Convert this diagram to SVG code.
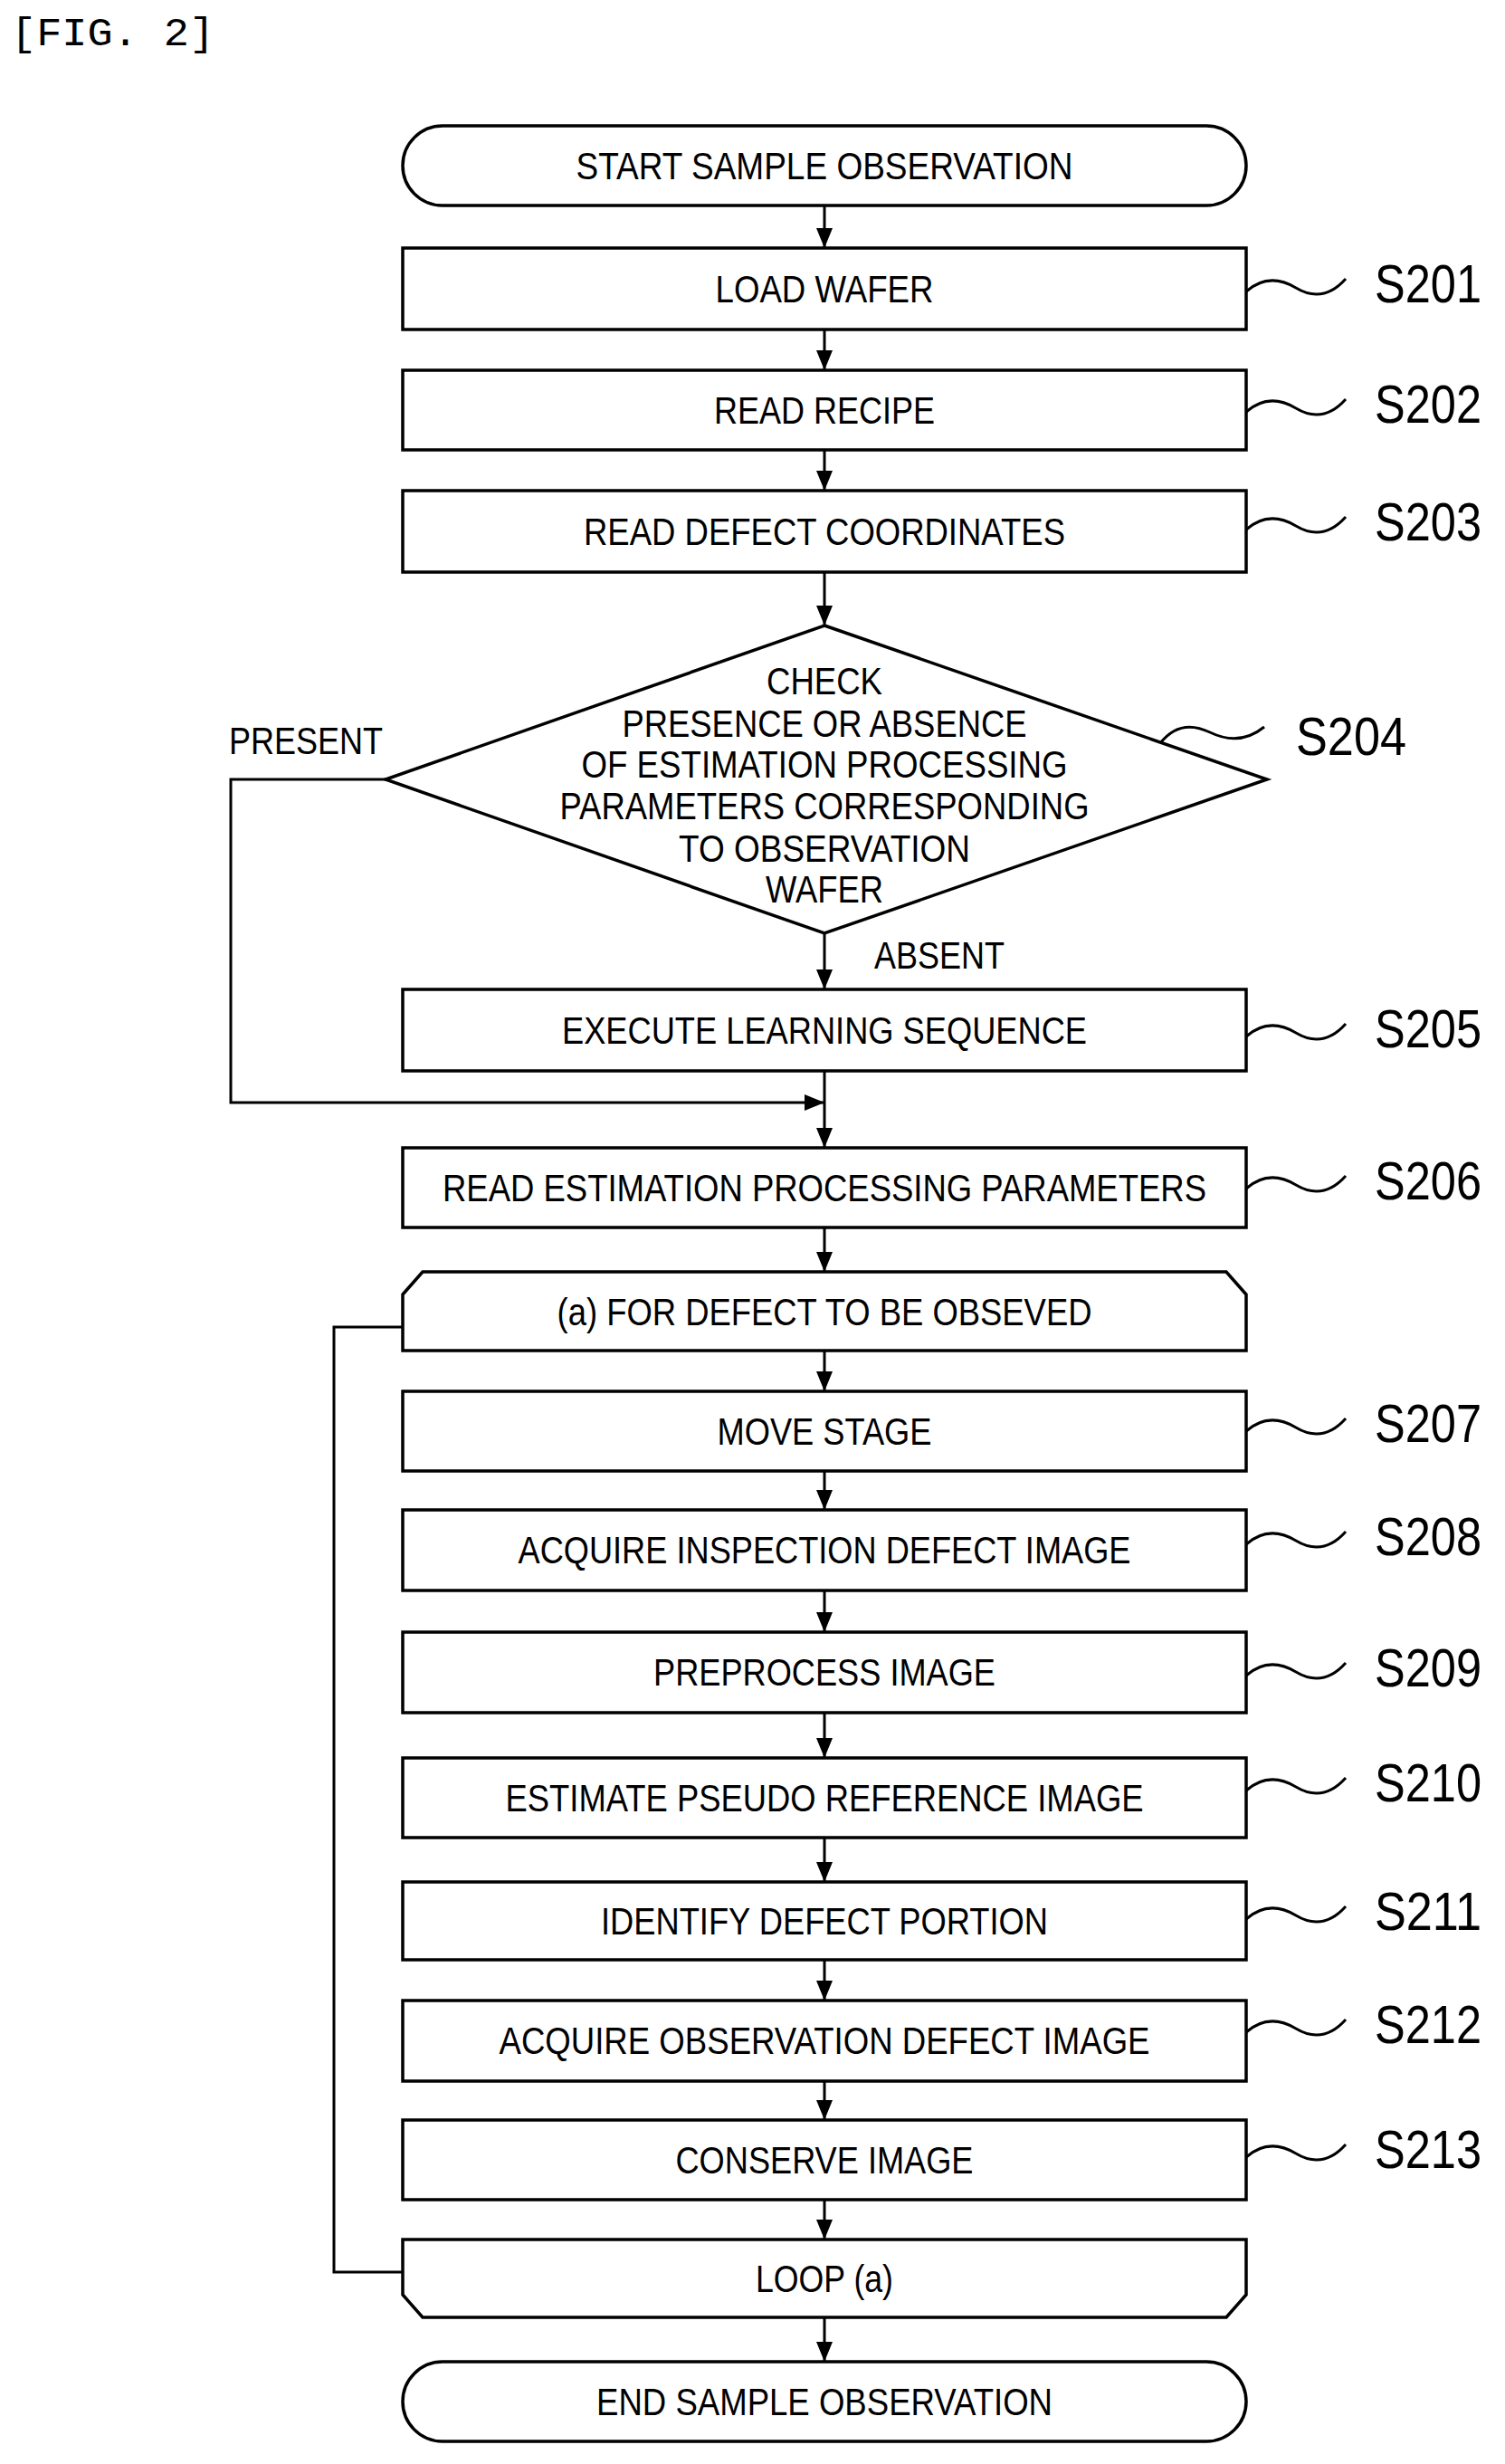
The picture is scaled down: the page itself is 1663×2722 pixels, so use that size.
<svg xmlns="http://www.w3.org/2000/svg" width="1663" height="2722" viewBox="0 0 1663 2722">
<style>
.b{fill:#fff;stroke:#000;stroke-width:3.5}
.t{font-family:"Liberation Sans",Arial,sans-serif;font-size:42px;text-anchor:middle;fill:#000}
.s{font-family:"Liberation Sans",Arial,sans-serif;font-size:60px;fill:#000}
.c{fill:none;stroke:#000;stroke-width:3}
</style>
<defs>
<marker id="ah" markerWidth="22" markerHeight="22" refX="22" refY="11" orient="auto" markerUnits="userSpaceOnUse" viewBox="0 0 22 22"><path d="M0,2L22,11L0,20z" fill="#000"/></marker></defs>
<rect width="1663" height="2722" fill="#fff"/>
<text x="12" y="50" font-family="Liberation Mono,monospace" font-size="44" textLength="225" lengthAdjust="spacingAndGlyphs">[FIG. 2]</text>
<g id="connectors">
<path class="c" marker-end="url(#ah)" d="M911,227V274"/>
<path class="c" marker-end="url(#ah)" d="M911,364V409"/>
<path class="c" marker-end="url(#ah)" d="M911,497V542"/>
<path class="c" marker-end="url(#ah)" d="M911,632V691"/>
<path class="c" marker-end="url(#ah)" d="M911,1031V1093"/>
<path class="c" marker-end="url(#ah)" d="M911,1183V1268"/>
<path class="c" marker-end="url(#ah)" d="M426,861H255V1218H911"/>
<path class="c" marker-end="url(#ah)" d="M911,1356V1405"/>
<path class="c" marker-end="url(#ah)" d="M911,1492V1537"/>
<path class="c" marker-end="url(#ah)" d="M911,1625V1668"/>
<path class="c" marker-end="url(#ah)" d="M911,1757V1803"/>
<path class="c" marker-end="url(#ah)" d="M911,1892V1942"/>
<path class="c" marker-end="url(#ah)" d="M911,2030V2079"/>
<path class="c" marker-end="url(#ah)" d="M911,2165V2210"/>
<path class="c" marker-end="url(#ah)" d="M911,2299V2342"/>
<path class="c" marker-end="url(#ah)" d="M911,2430V2474"/>
<path class="c" marker-end="url(#ah)" d="M911,2560V2609"/>
<path class="c" d="M445,2510H369V1466H445"/>
<text class="t" x="1038" y="1070" textLength="144" lengthAdjust="spacingAndGlyphs">ABSENT</text>
<text class="t" x="338" y="833" textLength="170" lengthAdjust="spacingAndGlyphs">PRESENT</text>
</g>
<g id="start"><rect class="b" x="445" y="139" width="932" height="88" rx="44"/><text class="t" x="911" y="198" textLength="549" lengthAdjust="spacingAndGlyphs">START SAMPLE OBSERVATION</text></g>
<g id="s201"><rect class="b" x="445" y="274" width="932" height="90"/><text class="t" x="911" y="334" textLength="241" lengthAdjust="spacingAndGlyphs">LOAD WAFER</text>
<path class="c" d="M1377,322q25,-22 55,-4t55,-10"/><text class="s" x="1519" y="334" textLength="118" lengthAdjust="spacingAndGlyphs">S201</text></g>
<g id="s202"><rect class="b" x="445" y="409" width="932" height="88"/><text class="t" x="911" y="468" textLength="244" lengthAdjust="spacingAndGlyphs">READ RECIPE</text>
<path class="c" d="M1377,455q25,-22 55,-4t55,-10"/><text class="s" x="1519" y="467" textLength="118" lengthAdjust="spacingAndGlyphs">S202</text></g>
<g id="s203"><rect class="b" x="445" y="542" width="932" height="90"/><text class="t" x="911" y="602" textLength="532" lengthAdjust="spacingAndGlyphs">READ DEFECT COORDINATES</text>
<path class="c" d="M1377,585q25,-22 55,-4t55,-10"/><text class="s" x="1519" y="597" textLength="118" lengthAdjust="spacingAndGlyphs">S203</text></g>
<g id="s204"><path class="b" d="M911,691L1400,861L911,1031L426,861z"/>
<text class="t" x="911" y="767" textLength="128" lengthAdjust="spacingAndGlyphs">CHECK</text>
<text class="t" x="911" y="814" textLength="447" lengthAdjust="spacingAndGlyphs">PRESENCE OR ABSENCE</text>
<text class="t" x="911" y="859" textLength="537" lengthAdjust="spacingAndGlyphs">OF ESTIMATION PROCESSING</text>
<text class="t" x="911" y="905" textLength="585" lengthAdjust="spacingAndGlyphs">PARAMETERS CORRESPONDING</text>
<text class="t" x="911" y="952" textLength="322" lengthAdjust="spacingAndGlyphs">TO OBSERVATION</text>
<text class="t" x="911" y="997" textLength="130" lengthAdjust="spacingAndGlyphs">WAFER</text>
<path class="c" d="M1282,821q22,-28 55,-12t60,-6"/><text class="s" x="1432" y="834" textLength="122" lengthAdjust="spacingAndGlyphs">S204</text></g>
<g id="s205"><rect class="b" x="445" y="1093" width="932" height="90"/><text class="t" x="911" y="1153" textLength="580" lengthAdjust="spacingAndGlyphs">EXECUTE LEARNING SEQUENCE</text>
<path class="c" d="M1377,1145q25,-22 55,-4t55,-10"/><text class="s" x="1519" y="1157" textLength="118" lengthAdjust="spacingAndGlyphs">S205</text></g>
<g id="s206"><rect class="b" x="445" y="1268" width="932" height="88"/><text class="t" x="911" y="1327" textLength="844" lengthAdjust="spacingAndGlyphs">READ ESTIMATION PROCESSING PARAMETERS</text>
<path class="c" d="M1377,1313q25,-22 55,-4t55,-10"/><text class="s" x="1519" y="1325" textLength="118" lengthAdjust="spacingAndGlyphs">S206</text></g>
<g id="loopstart"><path class="b" d="M467,1405H1355L1377,1430V1492H445V1430z"/><text class="t" x="911" y="1464" textLength="591" lengthAdjust="spacingAndGlyphs">(a) FOR DEFECT TO BE OBSEVED</text></g>
<g id="s207"><rect class="b" x="445" y="1537" width="932" height="88"/><text class="t" x="911" y="1596" textLength="237" lengthAdjust="spacingAndGlyphs">MOVE STAGE</text>
<path class="c" d="M1377,1581q25,-22 55,-4t55,-10"/><text class="s" x="1519" y="1593" textLength="118" lengthAdjust="spacingAndGlyphs">S207</text></g>
<g id="s208"><rect class="b" x="445" y="1668" width="932" height="89"/><text class="t" x="911" y="1727" textLength="677" lengthAdjust="spacingAndGlyphs">ACQUIRE INSPECTION DEFECT IMAGE</text>
<path class="c" d="M1377,1706q25,-22 55,-4t55,-10"/><text class="s" x="1519" y="1718" textLength="118" lengthAdjust="spacingAndGlyphs">S208</text></g>
<g id="s209"><rect class="b" x="445" y="1803" width="932" height="89"/><text class="t" x="911" y="1862" textLength="378" lengthAdjust="spacingAndGlyphs">PREPROCESS IMAGE</text>
<path class="c" d="M1377,1851q25,-22 55,-4t55,-10"/><text class="s" x="1519" y="1863" textLength="118" lengthAdjust="spacingAndGlyphs">S209</text></g>
<g id="s210"><rect class="b" x="445" y="1942" width="932" height="88"/><text class="t" x="911" y="2001" textLength="705" lengthAdjust="spacingAndGlyphs">ESTIMATE PSEUDO REFERENCE IMAGE</text>
<path class="c" d="M1377,1978q25,-22 55,-4t55,-10"/><text class="s" x="1519" y="1990" textLength="118" lengthAdjust="spacingAndGlyphs">S210</text></g>
<g id="s211"><rect class="b" x="445" y="2079" width="932" height="86"/><text class="t" x="911" y="2137" textLength="494" lengthAdjust="spacingAndGlyphs">IDENTIFY DEFECT PORTION</text>
<path class="c" d="M1377,2120q25,-22 55,-4t55,-10"/><text class="s" x="1519" y="2132" textLength="118" lengthAdjust="spacingAndGlyphs">S211</text></g>
<g id="s212"><rect class="b" x="445" y="2210" width="932" height="89"/><text class="t" x="911" y="2269" textLength="719" lengthAdjust="spacingAndGlyphs">ACQUIRE OBSERVATION DEFECT IMAGE</text>
<path class="c" d="M1377,2245q25,-22 55,-4t55,-10"/><text class="s" x="1519" y="2257" textLength="118" lengthAdjust="spacingAndGlyphs">S212</text></g>
<g id="s213"><rect class="b" x="445" y="2342" width="932" height="88"/><text class="t" x="911" y="2401" textLength="329" lengthAdjust="spacingAndGlyphs">CONSERVE IMAGE</text>
<path class="c" d="M1377,2383q25,-22 55,-4t55,-10"/><text class="s" x="1519" y="2395" textLength="118" lengthAdjust="spacingAndGlyphs">S213</text></g>
<g id="loopend"><path class="b" d="M445,2474H1377V2535L1355,2560H467L445,2535z"/><text class="t" x="911" y="2532" textLength="152" lengthAdjust="spacingAndGlyphs">LOOP (a)</text></g>
<g id="end"><rect class="b" x="445" y="2609" width="932" height="88" rx="44"/><text class="t" x="911" y="2668" textLength="504" lengthAdjust="spacingAndGlyphs">END SAMPLE OBSERVATION</text></g>
</svg>
